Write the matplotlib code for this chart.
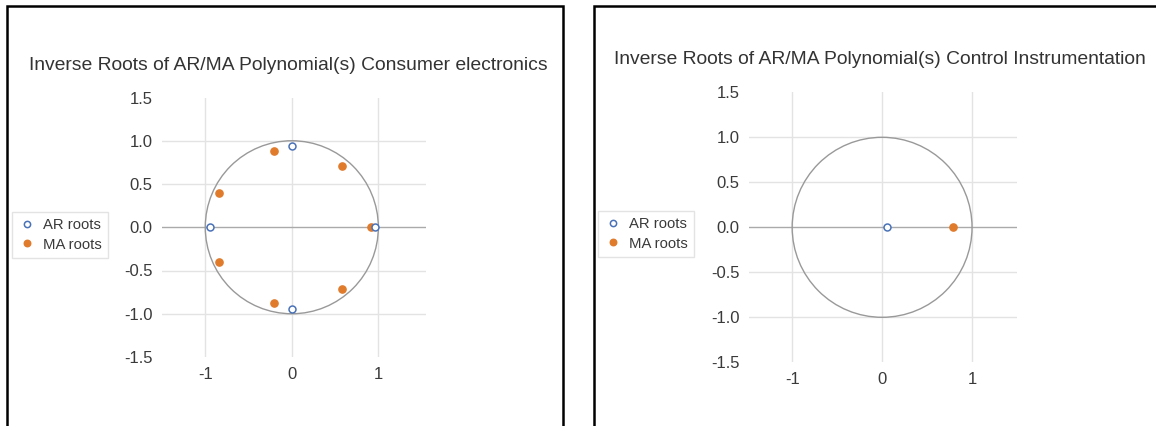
import numpy as np
import matplotlib
matplotlib.use("Agg")
import matplotlib.pyplot as plt
from matplotlib.patches import Circle, Rectangle

plt.rcParams['font.family'] = ['Liberation Sans', 'DejaVu Sans']

# ---- data ----
titles = ["Inverse Roots of AR/MA Polynomial(s) Consumer electronics",
          "Inverse Roots of AR/MA Polynomial(s) Control Instrumentation"]
series_names = ["AR roots", "MA roots"]

ce_ar_re = [0.0, 0.0, -0.95, 0.96]
ce_ar_im = [0.94, -0.94, 0.0, 0.0]
ce_ma_re = [-0.20, 0.58, -0.84, 0.92, -0.84, 0.58, -0.20]
ce_ma_im = [0.88, 0.71, 0.40, 0.0, -0.40, -0.71, -0.88]

ci_ar_re = [0.05]
ci_ar_im = [0.0]
ci_ma_re = [0.79]
ci_ma_im = [0.0]

x_ticks = [-1, 0, 1]
x_tick_labels = ["-1", "0", "1"]
y_ticks = [-1.5, -1.0, -0.5, 0.0, 0.5, 1.0, 1.5]
y_tick_labels = ["-1.5", "-1.0", "-0.5", "0.0", "0.5", "1.0", "1.5"]

AR_COLOR = "#4a72b8"
MA_COLOR = "#e07b2c"
GRID = "#e3e3e3"
ZERO = "#aaaaaa"
CIRC = "#999999"
TXT = "#3a3a3a"

W, H = 1156, 426
fig = plt.figure(figsize=(W / 100, H / 100), dpi=100)


def px_rect(x0, y0, x1, y1):
    return [x0 / W, 1 - y1 / H, (x1 - x0) / W, (y1 - y0) / H]


def draw_panel(rect, xlim, title, title_xy, ar, ma, leg_anchor):
    ax = fig.add_axes(px_rect(*rect))
    ax.set_xlim(*xlim)
    ax.set_ylim(-1.5, 1.5)
    for s in ax.spines.values():
        s.set_visible(False)
    ax.set_xticks(x_ticks)
    ax.set_xticklabels(x_tick_labels)
    ax.set_yticks(y_ticks)
    ax.set_yticklabels(y_tick_labels)
    ax.tick_params(length=0, labelsize=12, colors=TXT, pad=7)
    for xv in x_ticks:
        ax.axvline(xv, color=GRID, lw=1, zorder=0)
    for yv in y_ticks:
        if abs(yv) < 1.5:
            ax.axhline(yv, color=ZERO if yv == 0 else GRID, lw=1, zorder=0.5)
    ax.add_patch(Circle((0, 0), 1, fill=False, edgecolor=CIRC, lw=1, zorder=1))
    h1, = ax.plot(ar[0], ar[1], 'o', ms=5, mfc='white', mec=AR_COLOR, mew=1.1,
                  ls='none', zorder=3, label=series_names[0])
    h2, = ax.plot(ma[0], ma[1], 'o', ms=5.2, mfc=MA_COLOR, mec=MA_COLOR,
                  ls='none', zorder=2, label=series_names[1])
    fig.text(title_xy[0] / W, 1 - title_xy[1] / H, title, ha='center',
             va='center', fontsize=13.9, color="#333333")
    leg = fig.legend(handles=[h1, h2], loc='upper left',
                     bbox_to_anchor=(leg_anchor[0] / W, 1 - leg_anchor[1] / H),
                     frameon=True, fancybox=False, fontsize=10.7,
                     handlelength=1.2, handletextpad=0.45, borderpad=0.42,
                     labelspacing=0.36, borderaxespad=0, markerscale=0.9)
    leg.get_frame().set_edgecolor("#dddddd")
    leg.get_frame().set_linewidth(1)
    for t in leg.get_texts():
        t.set_color(TXT)
    return ax


draw_panel((162, 97.5, 425.5, 357), (-1.5, 1.545), titles[0], (288, 65),
           (ce_ar_re, ce_ar_im), (ce_ma_re, ce_ma_im), (12, 212))
draw_panel((749, 92.3, 1017, 362.3), (-1.48, 1.5), titles[1], (880, 59),
           (ci_ar_re, ci_ar_im), (ci_ma_re, ci_ma_im), (598, 211))

# panel borders
fig.patches.append(Rectangle((7 / W, -0.05), (563 - 7) / W, 1 - 6 / H + 0.05,
                             transform=fig.transFigure, fill=False,
                             edgecolor='black', lw=1.8))
fig.patches.append(Rectangle((594 / W, -0.05), (1170 - 594) / W, 1 - 5.5 / H + 0.05,
                             transform=fig.transFigure, fill=False,
                             edgecolor='black', lw=1.8))

fig.savefig("out.png", dpi=100, facecolor='white')
